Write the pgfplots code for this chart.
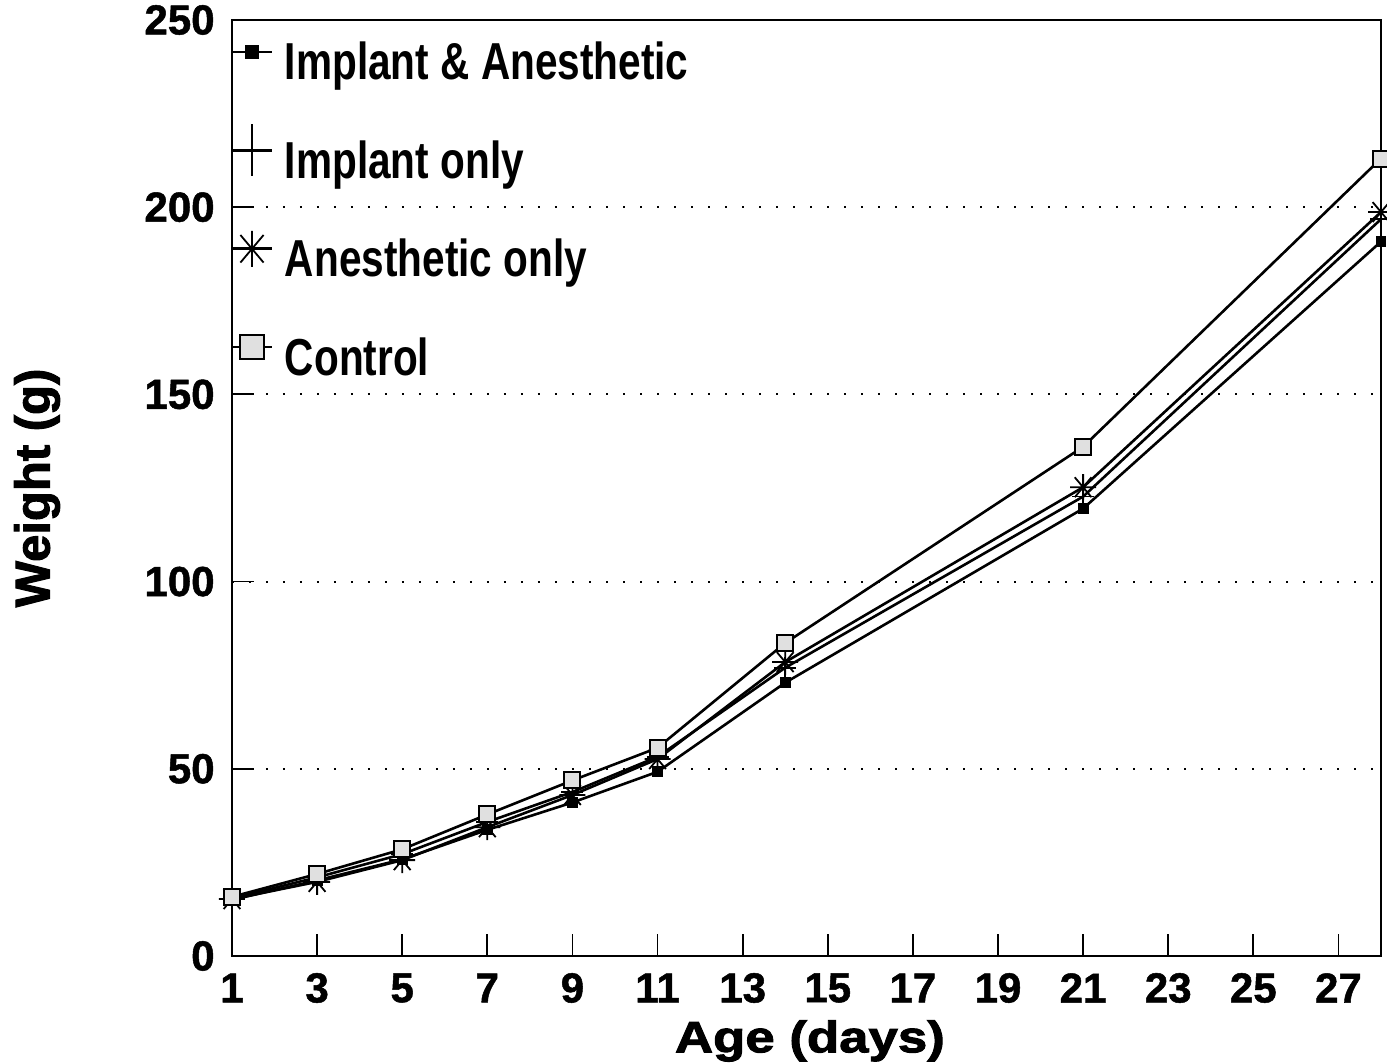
\documentclass[border=0pt]{standalone}
\usepackage{fontspec}
\setmainfont{Liberation Sans}
\newfontfamily\legfont{Liberation Sans}[FakeStretch=0.78]
\newfontfamily\labfont{Liberation Sans}[FakeBold=2]
\newfontfamily\xlabfont{Liberation Sans}[FakeBold=2.2, FakeStretch=1.2]
\newfontfamily\tickfont{Liberation Sans}[FakeBold=1.2]
\usepackage{pgfplots}
\pgfplotsset{compat=1.18}
\pgfdeclareplotmark{ast8}{%
  \pgfpathmoveto{\pgfqpoint{0pt}{\pgfplotmarksize}}\pgfpathlineto{\pgfqpoint{0pt}{-\pgfplotmarksize}}%
  \pgfpathmoveto{\pgfqpoint{\pgfplotmarksize}{0pt}}\pgfpathlineto{\pgfqpoint{-\pgfplotmarksize}{0pt}}%
  \pgfpathmoveto{\pgfqpointpolar{50}{\pgfplotmarksize}}\pgfpathlineto{\pgfqpointpolar{230}{\pgfplotmarksize}}%
  \pgfpathmoveto{\pgfqpointpolar{130}{\pgfplotmarksize}}\pgfpathlineto{\pgfqpointpolar{310}{\pgfplotmarksize}}%
  \pgfusepathqstroke}
\begin{document}
\begin{tikzpicture}
\begin{axis}[
  scale only axis, width=574.5pt, height=468pt,
  xmin=1, xmax=28, ymin=0, ymax=250,
  xtick={1,3,...,27}, ytick={0,50,...,250},
  tick pos=left, tick align=inside, major tick length=11pt,
  tick style={black, line width=0.9pt},
  axis line style={line width=1.4pt},
  ymajorgrids,
  major grid style={black, line width=1pt, dash pattern=on 1.2pt off 7.3pt},
  /pgf/number format/assume math mode=true,
  ticklabel style={font=\tickfont\bfseries\fontsize{21}{21}\selectfont},
  xticklabel style={anchor=center, inner sep=0pt, yshift=-16pt},
  yticklabel style={anchor=east, inner sep=0pt, xshift=-8.5pt},
  xlabel={Age (days)},
  ylabel={Weight (g)},
  xlabel style={at={([yshift=-42.5pt]rel axis cs:0.503,0)}, anchor=center, inner sep=0pt, font=\xlabfont\bfseries\fontsize{22}{22}\selectfont},
  ylabel style={at={([xshift=-97.5pt]rel axis cs:0,0.5)}, anchor=center, inner sep=0pt, font=\labfont\bfseries\fontsize{24.5}{24.5}\selectfont},
  clip=false,
  legend style={at={(rel axis cs:0,1)}, anchor=north west, yshift=-11pt,
    draw=none, fill=none, inner sep=0pt, outer sep=0pt, row sep=25.2pt,
    font=\legfont\bfseries\fontsize{26}{26}\selectfont,
    nodes={inner sep=0pt, text height=19pt, text depth=5pt},
    /tikz/every odd column/.append style={column sep=6.5pt}},
  legend cell align=left,
  legend image code/.code={%
    \begin{pgfinterruptboundingbox}
    \draw[mark repeat=2, mark phase=2, #1] plot coordinates {(0pt,7pt) (10pt,7pt) (20pt,7pt)};
    \end{pgfinterruptboundingbox}
    \pgfpathrectangle{\pgfpoint{0pt}{-12pt}}{\pgfpoint{20pt}{24pt}}\pgfusepath{}},
]
\addlegendimage{black, line width=1.3pt, mark=square*, mark size=3pt, mark options={solid, line width=0.6pt}}
\addlegendentry{Implant \& Anesthetic}
\addlegendimage{black, line width=1.3pt, mark=|, mark size=13pt, mark options={solid, line width=0.8pt}}
\addlegendentry{Implant only}
\addlegendimage{black, line width=1.3pt, mark=ast8, mark size=9pt, mark options={solid, line width=0.9pt}}
\addlegendentry{Anesthetic only}
\addlegendimage{black, line width=1.3pt, mark=square*, mark size=6pt, mark options={solid, line width=1pt, fill=black!12}}
\addlegendentry{Control}

% Implant & Anesthetic
\addplot[forget plot, black, line width=1.3pt, mark=square*, mark size=2.4pt, mark options={line width=0.6pt}]
  coordinates {(1,15.0)(3,20.2)(5,25.8)(7,33.7)(9,41.0)(11,49.2)(14,73.0)(21,119.5)(28,190.8)};
% Implant only
\addplot[forget plot, black, line width=1.3pt, mark=+, mark size=5.5pt, mark options={line width=0.8pt}]
  coordinates {(1,15.4)(3,21.0)(5,27.2)(7,35.8)(9,43.8)(11,53.2)(14,77.0)(21,122.7)(28,196.8)};
% Anesthetic only
\addplot[forget plot, black, line width=1.3pt, mark=ast8, mark size=6.5pt, mark options={line width=0.9pt}]
  coordinates {(1,15.2)(3,19.8)(5,25.6)(7,34.4)(9,43.0)(11,52.6)(14,78.5)(21,125.2)(28,198.7)};
% Control
\addplot[forget plot, black, line width=1.3pt, mark=square*, mark size=4pt, mark options={line width=1pt, fill=black!12}]
  coordinates {(1,15.8)(3,21.9)(5,28.5)(7,37.8)(9,46.9)(11,55.6)(14,83.6)(21,136.0)(28,213.0)};
\coordinate (SW) at (rel axis cs:0,0);
\end{axis}
\pgfresetboundingbox
\path (SW) ++(-116pt,-53.5pt) rectangle ++(693.5pt,531.5pt);
\end{tikzpicture}
\end{document}
